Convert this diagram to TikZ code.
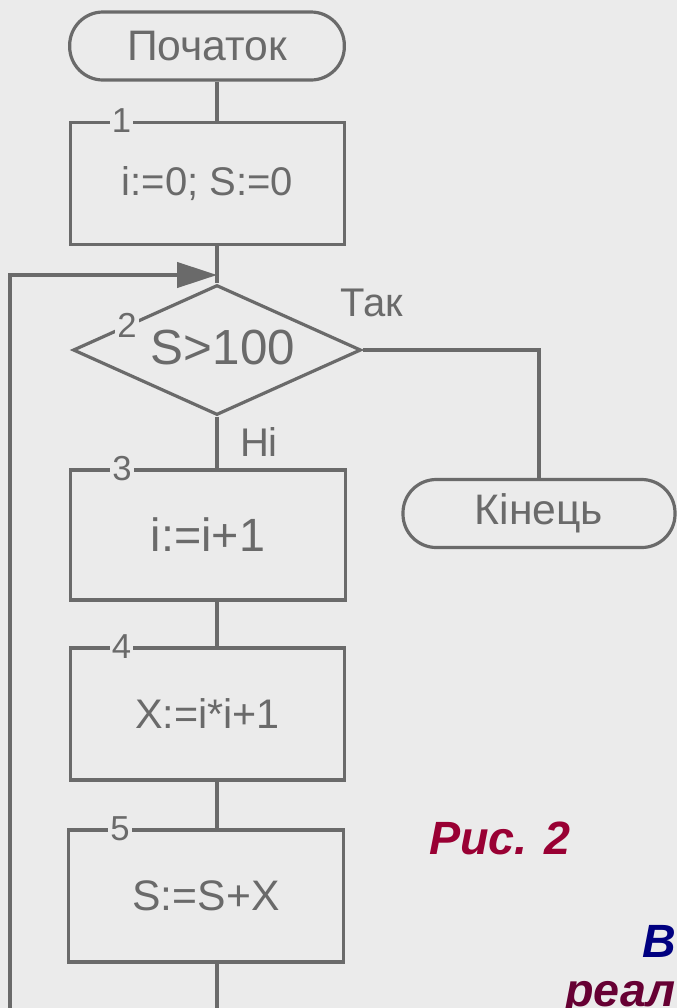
\documentclass[tikz,border=0pt]{standalone}
\usepackage{fontspec}
\setmainfont{Liberation Sans}
\usetikzlibrary{shapes.geometric,arrows.meta,calc}
\definecolor{bgcol}{HTML}{EBEBEB}
\definecolor{linecol}{HTML}{6A6A6A}
\definecolor{figred}{HTML}{990033}
\definecolor{darkred}{HTML}{660033}
\definecolor{navy}{HTML}{000080}
\tikzset{
  term/.style={draw=linecol, line width=2.4pt, rounded corners=25pt, minimum width=206pt, minimum height=51pt, text=linecol, font=\fontsize{32}{36}\selectfont},
  proc/.style={draw=linecol, line width=2.4pt, minimum width=206pt, text=linecol},
  dec/.style={draw=linecol, line width=2.4pt, shape=diamond, minimum width=216pt, minimum height=97.5pt, inner sep=0pt},
  num/.style={fill=bgcol, text=linecol, inner sep=1.5pt, font=\fontsize{26}{29}\selectfont},
  lbl/.style={text=linecol, font=\fontsize{30}{34}\selectfont},
  conn/.style={draw=linecol, line width=2.4pt},
  capt/.style={inner sep=0pt, font=\fontsize{35}{40}\selectfont\bfseries\itshape}
}
\begin{document}
\begin{tikzpicture}[x=0.75pt, y=-0.75pt]
    \clip (0,0) rectangle (677,1008);
    \fill[bgcol] (0,0) rectangle (677,1008);
    % blocks
    \node[term] (start) at (207,46) {Початок};
    \node[proc, minimum height=92pt, font=\fontsize{30}{34}\selectfont] (b1) at (207.5,183.5) {i:=0; S:=0};
    \node[dec] (dia) at (217,350) {};
    \node[lbl, font=\fontsize{37}{42}\selectfont] (cond) at (223,348) {S>100};
    \node[proc, minimum height=97.5pt, font=\fontsize{35}{40}\selectfont] (b3) at (208,535) {i:=i+1};
    \node[proc, minimum height=99pt, font=\fontsize{31}{36}\selectfont] (b4) at (207.5,714) {X:=i*i+1};
    \node[proc, minimum height=99pt, font=\fontsize{32}{36}\selectfont] (b5) at (206,896) {S:=S+X};
    \node[term, minimum width=204pt] (stop) at (539,513.5) {Кінець};
    \coordinate (axis) at (dia.north);
    \coordinate (merge) at (axis |- 0,275);
    \coordinate (loopc) at (10,275);
    % connectors
    \draw[conn] (start.south -| axis) -- (b1.north -| axis);
    \draw[conn] (b1.south -| axis) -- (dia.north);
    \draw[conn] (dia.south) -- (b3.north -| axis);
    \draw[conn] (b3.south -| axis) -- (b4.north -| axis);
    \draw[conn] (b4.south -| axis) -- (b5.north -| axis);
    \draw[conn] (dia.east) -| (stop.north);
    \draw[conn, -{Triangle[length=30pt,width=19pt]}] (b5.south -| axis) -- (axis |- 0,1030) -| (loopc) -- (merge);
    % labels
    \node[lbl] (yes) at (372,303) {Так};
    \node[lbl] (no) at (259,442) {Ні};
    \node[num] (n1) at ($(b1.north west)+(53,0)$) {1};
    \node[num] (n2) at (127,325) {2};
    \node[num] (n3) at ($(b3.north west)+(53,0)$) {3};
    \node[num] (n4) at ($(b4.north west)+(53,0)$) {4};
    \node[num] (n5) at ($(b5.north west)+(53,0)$) {5};
    % caption
    \node[capt, text=figred] (fig) at (500,838) {Рис. 2};
    \node[capt, anchor=west, text=navy] (capb) at (642,941) {В};
    \node[capt, anchor=base west, text=darkred] (capr) at (565,1006) {реал};
\end{tikzpicture}
\end{document}
